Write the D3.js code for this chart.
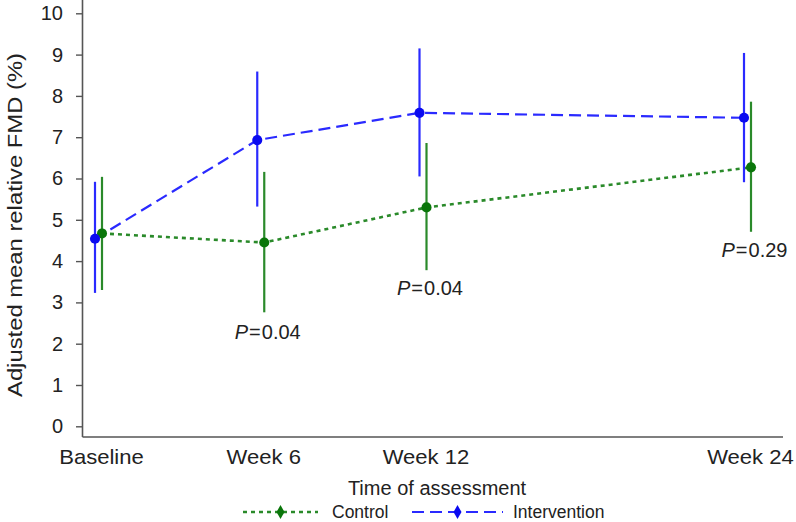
<!DOCTYPE html>
<html>
<head>
<meta charset="utf-8">
<script src="https://cdn.jsdelivr.net/npm/d3@7"></script>
<style>
  html, body { margin: 0; padding: 0; background: #fff; }
  svg { display: block; }
  text { font-family: "Liberation Sans", Arial, Helvetica, sans-serif; fill: #222; }
</style>
</head>
<body>
<svg id="chart" width="796" height="522"></svg>
<script>
// ---- data ----
const weeks = [0, 6, 12, 24];
const timeLabels = ["Baseline", "Week 6", "Week 12", "Week 24"];
const controlMean = [4.67, 4.45, 5.30, 6.27];
const controlLow  = [3.30, 2.76, 3.78, 4.71];
const controlHigh = [6.04, 6.16, 6.86, 7.86];
const interventionMean = [4.54, 6.93, 7.59, 7.47];
const interventionLow  = [3.23, 5.32, 6.05, 5.91];
const interventionHigh = [5.92, 8.59, 9.15, 9.04];
const yTicks = [0, 1, 2, 3, 4, 5, 6, 7, 8, 9, 10];
const pWeeks = [6, 12, 24];
const pValues = ["0.04", "0.04", "0.29"];
const pLabelAt = [2.11, 3.18, 4.10];

// ---- layout ----
const svg = d3.select("#chart");
const x = d3.scaleLinear().domain([0, 24]).range([98.5, 747.5]);
const y = d3.scaleLinear().domain([0, 10]).range([426.3, 13.3]);
const axisX = 82.5, axisY = 437, axisRight = 783;

const blue = "#2a2aff", blueMark = "#0a0af0";
const green = "#2a8a2a", greenMark = "#0a760a";
const dodge = 3.5;

// axes lines
svg.append("line").attr("x1", axisX).attr("x2", axisX).attr("y1", 0).attr("y2", axisY)
  .attr("stroke", "#555").attr("stroke-width", 1.6);
svg.append("line").attr("x1", axisX).attr("x2", axisRight).attr("y1", axisY).attr("y2", axisY)
  .attr("stroke", "#555").attr("stroke-width", 1.6);

// y axis ticks
const yAxis = svg.append("g").attr("transform", `translate(${axisX},0)`)
  .call(d3.axisLeft(y).tickValues(yTicks).tickSize(6.5).tickPadding(13).tickFormat(d3.format("d")));
yAxis.select(".domain").remove();
yAxis.selectAll(".tick line").attr("stroke", "#555").attr("stroke-width", 1.4);
yAxis.selectAll(".tick text").attr("font-size", 20).attr("fill", "#222")
  .style("font-family", '"Liberation Sans", Arial, sans-serif');

// x axis labels
const xAxis = svg.append("g").attr("transform", `translate(2.5,${axisY})`)
  .call(d3.axisBottom(x).tickValues(weeks).tickSize(0).tickPadding(12)
    .tickFormat((d, i) => timeLabels[i]));
xAxis.select(".domain").remove();
xAxis.selectAll(".tick text").attr("font-size", 21).attr("fill", "#222")
  .style("font-family", '"Liberation Sans", Arial, sans-serif')
  .attr("transform", "scale(1.05,1)");

// axis titles
svg.append("text").attr("x", 437).attr("y", 495).attr("text-anchor", "middle")
  .attr("font-size", 20).text("Time of assessment");
svg.append("text").attr("transform", "translate(22,225) rotate(-90)")
  .attr("text-anchor", "middle").attr("font-size", 20)
  .attr("textLength", 344).attr("lengthAdjust", "spacingAndGlyphs")
  .text("Adjusted mean relative FMD (%)");

// series
const series = [
  { name: "Control", mean: controlMean, lo: controlLow, hi: controlHigh, off: dodge,
    color: green, mark: greenMark, dash: "4,4", width: 2.6 },
  { name: "Intervention", mean: interventionMean, lo: interventionLow, hi: interventionHigh, off: -dodge,
    color: blue, mark: blueMark, dash: "12,6", width: 2.2 }
];

const line = d3.line();

series.forEach(s => {
  const pts = weeks.map((w, i) => [x(w) + s.off, y(s.mean[i])]);
  svg.append("path").attr("d", line(pts)).attr("fill", "none")
    .attr("stroke", s.color).attr("stroke-width", s.width).attr("stroke-dasharray", s.dash);
});

series.forEach(s => {
  const g = svg.append("g");
  weeks.forEach((w, i) => {
    g.append("line").attr("x1", x(w) + s.off).attr("x2", x(w) + s.off)
      .attr("y1", y(s.lo[i])).attr("y2", y(s.hi[i]))
      .attr("stroke", s.color).attr("stroke-width", 2.2);
  });
  g.selectAll("path.pt").data(weeks).join("path").attr("class", "pt")
    .attr("transform", (w, i) => `translate(${x(w) + s.off},${y(s.mean[i])})`)
    .attr("d", d3.symbol(d3.symbolCircle, 80)())
    .attr("fill", s.mark);
});

// P-value annotations
pWeeks.forEach((w, i) => {
  const t = svg.append("text").attr("x", x(w) + 7).attr("y", y(pLabelAt[i]))
    .attr("text-anchor", "middle").attr("font-size", 20);
  t.append("tspan").attr("font-style", "italic").text("P");
  t.append("tspan").attr("dx", 1).text("=");
  t.append("tspan").attr("dx", 1).text(pValues[i]);
});

// legend
const legendY = 512;
const legend = [
  { s: series[0], x1: 243, x2: 318, tx: 332 },
  { s: series[1], x1: 412, x2: 503, tx: 513 }
];
legend.forEach(l => {
  svg.append("line").attr("x1", l.x1).attr("x2", l.x2).attr("y1", legendY).attr("y2", legendY)
    .attr("stroke", l.s.color).attr("stroke-width", l.s.width).attr("stroke-dasharray", l.s.dash);
  svg.append("path").attr("transform", `translate(${(l.x1 + l.x2) / 2},${legendY})`)
    .attr("d", d3.symbol(d3.symbolDiamond, 55)()).attr("fill", l.s.mark);
  svg.append("text").attr("x", l.tx).attr("y", legendY + 6).attr("font-size", 17.5).text(l.s.name);
});
</script>
</body>
</html>
